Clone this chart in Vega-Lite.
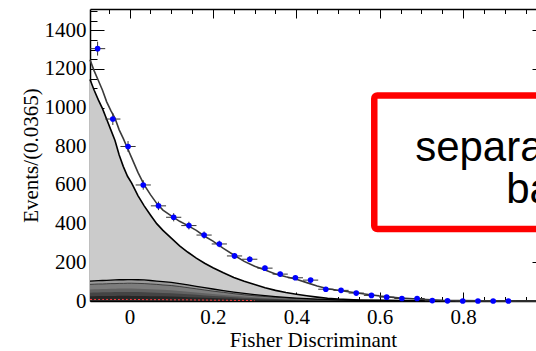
{
  "$schema": "https://vega.github.io/schema/vega-lite/v6.json",
  "width": 446,
  "height": 292,
  "autosize": {"type": "none"},
  "padding": {"left": 90, "top": 9, "right": 0, "bottom": 50},
  "background": "white",
  "config": {
    "view": {"stroke": null},
    "axis": {
      "labelFont": "Liberation Serif", "titleFont": "Liberation Serif",
      "labelFontSize": 21, "titleFontSize": 21, "titleFontWeight": "normal",
      "labelColor": "#000", "titleColor": "#000", "tickColor": "#000",
      "domainColor": "#000", "grid": false, "tickWidth": 1, "domainWidth": 1.5,
      "labelOverlap": false, "zindex": 1
    }
  },
  "datasets": {
    "curves": [
      {"x": -0.095, "total": 1248, "bkg": 1145, "d5": 103, "d4": 86, "d3": 60, "d2": 43, "d1": 25, "red": 8},
      {"x": -0.085, "total": 1190, "bkg": 1090, "d5": 104, "d4": 87, "d3": 61, "d2": 44, "d1": 25, "red": 8},
      {"x": -0.075, "total": 1140, "bkg": 1040, "d5": 105, "d4": 88, "d3": 61, "d2": 44, "d1": 26, "red": 8},
      {"x": -0.065, "total": 1090, "bkg": 995, "d5": 106, "d4": 88, "d3": 62, "d2": 45, "d1": 26, "red": 8},
      {"x": -0.055, "total": 1030, "bkg": 940, "d5": 107, "d4": 89, "d3": 62, "d2": 45, "d1": 26, "red": 8},
      {"x": -0.045, "total": 985, "bkg": 885, "d5": 108, "d4": 90, "d3": 63, "d2": 45, "d1": 26, "red": 8},
      {"x": -0.035, "total": 945, "bkg": 830, "d5": 109, "d4": 90, "d3": 63, "d2": 46, "d1": 26, "red": 8},
      {"x": -0.025, "total": 885, "bkg": 755, "d5": 110, "d4": 91, "d3": 64, "d2": 46, "d1": 27, "red": 8},
      {"x": -0.015, "total": 840, "bkg": 695, "d5": 110, "d4": 91, "d3": 64, "d2": 46, "d1": 27, "red": 8},
      {"x": -0.005, "total": 790, "bkg": 645, "d5": 111, "d4": 92, "d3": 64, "d2": 46, "d1": 27, "red": 8},
      {"x": 0.005, "total": 740, "bkg": 610, "d5": 111, "d4": 92, "d3": 64, "d2": 46, "d1": 26, "red": 8},
      {"x": 0.02, "total": 665, "bkg": 545, "d5": 110, "d4": 91, "d3": 63, "d2": 46, "d1": 26, "red": 8},
      {"x": 0.035, "total": 600, "bkg": 492, "d5": 109, "d4": 90, "d3": 62, "d2": 45, "d1": 26, "red": 7},
      {"x": 0.05, "total": 550, "bkg": 445, "d5": 106, "d4": 88, "d3": 61, "d2": 44, "d1": 25, "red": 7},
      {"x": 0.065, "total": 505, "bkg": 400, "d5": 103, "d4": 86, "d3": 60, "d2": 43, "d1": 25, "red": 7},
      {"x": 0.08, "total": 470, "bkg": 365, "d5": 100, "d4": 83, "d3": 58, "d2": 42, "d1": 24, "red": 7},
      {"x": 0.1, "total": 440, "bkg": 325, "d5": 96, "d4": 80, "d3": 56, "d2": 40, "d1": 23, "red": 6},
      {"x": 0.12, "total": 412, "bkg": 285, "d5": 90, "d4": 75, "d3": 52, "d2": 38, "d1": 22, "red": 6},
      {"x": 0.14, "total": 390, "bkg": 252, "d5": 83, "d4": 69, "d3": 48, "d2": 35, "d1": 20, "red": 6},
      {"x": 0.16, "total": 365, "bkg": 222, "d5": 76, "d4": 63, "d3": 44, "d2": 32, "d1": 18, "red": 5},
      {"x": 0.18, "total": 335, "bkg": 195, "d5": 69, "d4": 57, "d3": 40, "d2": 29, "d1": 17, "red": 5},
      {"x": 0.2, "total": 310, "bkg": 172, "d5": 62, "d4": 51, "d3": 36, "d2": 26, "d1": 15, "red": 4},
      {"x": 0.225, "total": 272, "bkg": 146, "d5": 54, "d4": 45, "d3": 31, "d2": 23, "d1": 13, "red": 4},
      {"x": 0.25, "total": 238, "bkg": 122, "d5": 46, "d4": 38, "d3": 27, "d2": 19, "d1": 11, "red": 3},
      {"x": 0.275, "total": 205, "bkg": 102, "d5": 39, "d4": 32, "d3": 23, "d2": 16, "d1": 9, "red": 3},
      {"x": 0.3, "total": 180, "bkg": 85, "d5": 33, "d4": 27, "d3": 19, "d2": 14, "d1": 8, "red": 2},
      {"x": 0.325, "total": 160, "bkg": 68, "d5": 28, "d4": 23, "d3": 16, "d2": 12, "d1": 7, "red": 2},
      {"x": 0.35, "total": 140, "bkg": 55, "d5": 23, "d4": 19, "d3": 13, "d2": 10, "d1": 6, "red": 2},
      {"x": 0.375, "total": 125, "bkg": 44, "d5": 19, "d4": 16, "d3": 11, "d2": 8, "d1": 5, "red": 1},
      {"x": 0.4, "total": 112, "bkg": 35, "d5": 15, "d4": 12, "d3": 9, "d2": 6, "d1": 4, "red": 1},
      {"x": 0.425, "total": 95, "bkg": 27, "d5": 12, "d4": 10, "d3": 7, "d2": 5, "d1": 3, "red": 1},
      {"x": 0.45, "total": 78, "bkg": 20, "d5": 10, "d4": 8, "d3": 6, "d2": 4, "d1": 2, "red": 1},
      {"x": 0.475, "total": 63, "bkg": 14, "d5": 8, "d4": 6, "d3": 5, "d2": 3, "d1": 2, "red": 0.5},
      {"x": 0.5, "total": 56, "bkg": 10, "d5": 6, "d4": 5, "d3": 3.5, "d2": 2.5, "d1": 1.5, "red": 0.4},
      {"x": 0.55, "total": 40, "bkg": 5, "d5": 4, "d4": 3.3, "d3": 2.3, "d2": 1.7, "d1": 1, "red": 0.3},
      {"x": 0.6, "total": 26, "bkg": 3, "d5": 2.5, "d4": 2, "d3": 1.5, "d2": 1, "d1": 0.6, "red": 0.2},
      {"x": 0.65, "total": 15, "bkg": 1.8, "d5": 1.5, "d4": 1.2, "d3": 0.9, "d2": 0.6, "d1": 0.4, "red": 0.1},
      {"x": 0.7, "total": 9, "bkg": 1, "d5": 0.8, "d4": 0.7, "d3": 0.5, "d2": 0.3, "d1": 0.2, "red": 0.1},
      {"x": 0.75, "total": 4, "bkg": 0.5, "d5": 0.4, "d4": 0.3, "d3": 0.2, "d2": 0.1, "d1": 0.1, "red": 0},
      {"x": 0.8, "total": 2, "bkg": 0.2, "d5": 0.2, "d4": 0.1, "d3": 0.1, "d2": 0.1, "d1": 0, "red": 0},
      {"x": 0.85, "total": 1, "bkg": 0.1, "d5": 0.1, "d4": 0, "d3": 0, "d2": 0, "d1": 0, "red": 0},
      {"x": 0.9, "total": 0.4, "bkg": 0, "d5": 0, "d4": 0, "d3": 0, "d2": 0, "d1": 0, "red": 0},
      {"x": 0.975, "total": 0.1, "bkg": 0, "d5": 0, "d4": 0, "d3": 0, "d2": 0, "d1": 0, "red": 0}
    ],
    "pts": [
      {"x": -0.07675, "n": 1305, "lo": 1269, "hi": 1341, "xlo": -0.095, "xhi": -0.0585},
      {"x": -0.04025, "n": 941, "lo": 910, "hi": 972, "xlo": -0.0585, "xhi": -0.022},
      {"x": -0.00375, "n": 799, "lo": 771, "hi": 827, "xlo": -0.022, "xhi": 0.0145},
      {"x": 0.03275, "n": 600, "lo": 575.5, "hi": 624.5, "xlo": 0.0145, "xhi": 0.051},
      {"x": 0.06925, "n": 492, "lo": 470, "hi": 514, "xlo": 0.051, "xhi": 0.0875},
      {"x": 0.10575, "n": 433, "lo": 412, "hi": 454, "xlo": 0.0875, "xhi": 0.124},
      {"x": 0.14225, "n": 390, "lo": 370, "hi": 410, "xlo": 0.124, "xhi": 0.1605},
      {"x": 0.17875, "n": 341, "lo": 322.5, "hi": 359.5, "xlo": 0.1605, "xhi": 0.197},
      {"x": 0.21525, "n": 295, "lo": 278, "hi": 312, "xlo": 0.197, "xhi": 0.2335},
      {"x": 0.25175, "n": 233, "lo": 218, "hi": 248, "xlo": 0.2335, "xhi": 0.27},
      {"x": 0.28825, "n": 216, "lo": 201, "hi": 231, "xlo": 0.27, "xhi": 0.3065},
      {"x": 0.32475, "n": 170, "lo": 157, "hi": 183, "xlo": 0.3065, "xhi": 0.343},
      {"x": 0.36125, "n": 139, "lo": 127, "hi": 151, "xlo": 0.343, "xhi": 0.3795},
      {"x": 0.39775, "n": 120, "lo": 109, "hi": 131, "xlo": 0.3795, "xhi": 0.416},
      {"x": 0.43425, "n": 108, "lo": 97.6, "hi": 118.4, "xlo": 0.416, "xhi": 0.4525},
      {"x": 0.47075, "n": 61, "lo": 53.2, "hi": 68.8, "xlo": 0.4525, "xhi": 0.489},
      {"x": 0.50725, "n": 55, "lo": 47.6, "hi": 62.4, "xlo": 0.489, "xhi": 0.5255},
      {"x": 0.54375, "n": 41, "lo": 34.6, "hi": 47.4, "xlo": 0.5255, "xhi": 0.562},
      {"x": 0.58025, "n": 29, "lo": 23.6, "hi": 34.4, "xlo": 0.562, "xhi": 0.5985},
      {"x": 0.61675, "n": 20, "lo": 15.5, "hi": 24.5, "xlo": 0.5985, "xhi": 0.635},
      {"x": 0.65325, "n": 13, "lo": 9.4, "hi": 16.6, "xlo": 0.635, "xhi": 0.6715},
      {"x": 0.68975, "n": 13, "lo": 9.4, "hi": 16.6, "xlo": 0.6715, "xhi": 0.708},
      {"x": 0.72625, "n": 2, "lo": 0.6, "hi": 3.4, "xlo": 0.708, "xhi": 0.7445},
      {"x": 0.76275, "n": 1, "lo": 0, "hi": 2, "xlo": 0.7445, "xhi": 0.781},
      {"x": 0.79925, "n": 0, "lo": 0, "hi": 0, "xlo": 0.781, "xhi": 0.8175},
      {"x": 0.83575, "n": 0, "lo": 0, "hi": 0, "xlo": 0.8175, "xhi": 0.854},
      {"x": 0.87225, "n": 0, "lo": 0, "hi": 0, "xlo": 0.854, "xhi": 0.8905},
      {"x": 0.90875, "n": 0, "lo": 0, "hi": 0, "xlo": 0.8905, "xhi": 0.927}
    ],
    "box": [{"x": 0.587, "x2": 1.3, "y": 372, "y2": 1063}],
    "txt": [
      {"x": 1.1667, "y": 792, "label": "separates signal from"},
      {"x": 1.1667, "y": 575, "label": "background"}
    ]
  },
  "resolve": {"axis": {"x": "independent", "y": "independent"}},
  "layer": [
    {
      "data": {"name": "curves"},
      "mark": {"type": "area", "color": "#cbcbcb"},
      "encoding": {
        "x": {"field": "x", "type": "quantitative", "scale": {"domain": [-0.095, 0.975], "nice": false, "zero": false},
              "axis": {"orient": "bottom", "values": [0, 0.2, 0.4, 0.6, 0.8], "format": "~g", "tickSize": -9, "labelPadding": 14, "title": "Fisher Discriminant", "titlePadding": 2, "domain": true}},
        "y": {"field": "bkg", "type": "quantitative", "scale": {"domain": [0, 1510], "nice": false, "zero": false},
              "axis": {"orient": "left", "values": [0, 200, 400, 600, 800, 1000, 1200, 1400], "format": "d", "tickSize": -14, "labelPadding": 18, "title": "Events/(0.0365)", "titlePadding": 3, "domain": true}}
      }
    },
    {
      "data": {"name": "curves"},
      "mark": {"type": "area", "color": "#9a9a9a"},
      "encoding": {
        "x": {"field": "x", "type": "quantitative", "scale": {"domain": [-0.095, 0.975], "nice": false, "zero": false},
              "axis": {"orient": "bottom", "values": [-0.05, 0.05, 0.1, 0.15, 0.25, 0.3, 0.35, 0.45, 0.5, 0.55, 0.65, 0.7, 0.75, 0.85, 0.9, 0.95], "tickSize": -4.5, "labels": false, "title": null, "domain": false}},
        "y": {"field": "d5", "type": "quantitative", "scale": {"domain": [0, 1510], "nice": false, "zero": false},
              "axis": {"orient": "left", "values": [50, 100, 150, 250, 300, 350, 450, 500, 550, 650, 700, 750, 850, 900, 950, 1050, 1100, 1150, 1250, 1300, 1350, 1450, 1500], "tickSize": -7, "labels": false, "title": null, "domain": false}}
      }
    },
    {
      "data": {"name": "curves"},
      "mark": {"type": "area", "color": "#7d7d7d"},
      "encoding": {
        "x": {"field": "x", "type": "quantitative", "scale": {"domain": [-0.095, 0.975], "nice": false, "zero": false},
              "axis": {"orient": "top", "values": [0, 0.2, 0.4, 0.6, 0.8], "tickSize": -9, "labels": false, "title": null, "domain": true}},
        "y": {"field": "d4", "type": "quantitative", "scale": {"domain": [0, 1510], "nice": false, "zero": false},
              "axis": {"orient": "right", "values": [0, 200, 400, 600, 800, 1000, 1200, 1400], "tickSize": -4, "labels": false, "title": null, "domain": false}}
      }
    },
    {
      "data": {"name": "curves"},
      "mark": {"type": "area", "color": "#626262"},
      "encoding": {
        "x": {"field": "x", "type": "quantitative", "scale": {"domain": [-0.095, 0.975], "nice": false, "zero": false},
              "axis": {"orient": "top", "values": [-0.05, 0.05, 0.1, 0.15, 0.25, 0.3, 0.35, 0.45, 0.5, 0.55, 0.65, 0.7, 0.75, 0.85, 0.9, 0.95], "tickSize": -4.5, "labels": false, "title": null, "domain": false}},
        "y": {"field": "d3", "type": "quantitative", "scale": {"domain": [0, 1510], "nice": false, "zero": false}, "axis": null}
      }
    },
    {
      "data": {"name": "curves"},
      "mark": {"type": "area", "color": "#444444"},
      "encoding": {
        "x": {"field": "x", "type": "quantitative", "axis": null},
        "y": {"field": "d2", "type": "quantitative", "axis": null}
      }
    },
    {
      "data": {"name": "curves"},
      "mark": {"type": "area", "color": "#262626"},
      "encoding": {
        "x": {"field": "x", "type": "quantitative", "axis": null},
        "y": {"field": "d1", "type": "quantitative", "axis": null}
      }
    },
    {
      "data": {"name": "curves"},
      "mark": {"type": "line", "color": "#2a2a2a", "strokeWidth": 0.8},
      "encoding": {
        "x": {"field": "x", "type": "quantitative", "axis": null},
        "y": {"field": "d4", "type": "quantitative", "axis": null}
      }
    },
    {
      "data": {"name": "curves"},
      "mark": {"type": "line", "color": "#000000", "strokeWidth": 1.3},
      "encoding": {
        "x": {"field": "x", "type": "quantitative", "axis": null},
        "y": {"field": "d5", "type": "quantitative", "axis": null}
      }
    },
    {
      "data": {"name": "curves"},
      "transform": [{"filter": "datum.x <= 0.32"}],
      "mark": {"type": "line", "color": "#ff4040", "strokeWidth": 1, "strokeDash": [2, 2]},
      "encoding": {
        "x": {"field": "x", "type": "quantitative", "axis": null},
        "y": {"field": "red", "type": "quantitative", "axis": null}
      }
    },
    {
      "data": {"name": "curves"},
      "mark": {"type": "line", "color": "#000000", "strokeWidth": 1.6},
      "encoding": {
        "x": {"field": "x", "type": "quantitative", "axis": null},
        "y": {"field": "bkg", "type": "quantitative", "axis": null}
      }
    },
    {
      "data": {"name": "curves"},
      "mark": {"type": "line", "color": "#3a3a3a", "strokeWidth": 1.6},
      "encoding": {
        "x": {"field": "x", "type": "quantitative", "axis": null},
        "y": {"field": "total", "type": "quantitative", "axis": null}
      }
    },
    {
      "data": {"name": "pts"},
      "mark": {"type": "rule", "color": "#333333", "strokeWidth": 1},
      "encoding": {
        "x": {"field": "xlo", "type": "quantitative", "axis": null},
        "x2": {"field": "xhi"},
        "y": {"field": "n", "type": "quantitative", "axis": null}
      }
    },
    {
      "data": {"name": "pts"},
      "mark": {"type": "rule", "color": "#333333", "strokeWidth": 1},
      "encoding": {
        "x": {"field": "x", "type": "quantitative", "axis": null},
        "y": {"field": "lo", "type": "quantitative", "axis": null},
        "y2": {"field": "hi"}
      }
    },
    {
      "data": {"name": "pts"},
      "mark": {"type": "point", "filled": true, "size": 32, "color": "#0000ff", "opacity": 1},
      "encoding": {
        "x": {"field": "x", "type": "quantitative", "axis": null},
        "y": {"field": "n", "type": "quantitative", "axis": null}
      }
    },
    {
      "data": {"name": "box"},
      "mark": {"type": "rect", "fill": "white", "stroke": "#ff0000", "strokeWidth": 6.5, "cornerRadius": 3},
      "encoding": {
        "x": {"field": "x", "type": "quantitative", "axis": null},
        "x2": {"field": "x2"},
        "y": {"field": "y", "type": "quantitative", "axis": null},
        "y2": {"field": "y2"}
      }
    },
    {
      "data": {"name": "txt"},
      "mark": {"type": "text", "font": "Liberation Sans", "fontSize": 42, "align": "center", "baseline": "middle", "color": "#000000"},
      "encoding": {
        "x": {"field": "x", "type": "quantitative", "axis": null},
        "y": {"field": "y", "type": "quantitative", "axis": null},
        "text": {"field": "label"}
      }
    }
  ]
}
